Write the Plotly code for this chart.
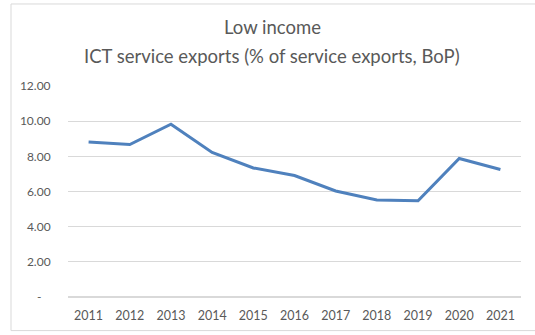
import plotly.graph_objects as go

years = ["2011", "2012", "2013", "2014", "2015", "2016", "2017", "2018", "2019", "2020", "2021"]
ict_share = [8.82, 8.67, 9.83, 8.22, 7.34, 6.91, 6.03, 5.52, 5.47, 7.88, 7.25]
y_ticks = [0, 2, 4, 6, 8, 10, 12]
y_tick_labels = ["-\u00a0\u00a0\u00a0", "2.00", "4.00", "6.00", "8.00", "10.00", "12.00"]
title_lines = ["Low income", "ICT service exports (% of service exports, BoP)"]

W, H = 535, 335
L, R, T, B = 68, 14, 85.5, 36
pw, ph = W - L - R, H - T - B

def px_to_paper_x(px):
    return (px - L) / pw

def px_to_paper_y(py):
    return (H - B - py) / ph

text_col = "#595959"
grid_col = "#d9d9d9"
font_family = "Lato, 'Open Sans', sans-serif"

fig = go.Figure(
    go.Scatter(
        x=years,
        y=ict_share,
        mode="lines",
        line=dict(color="#4f81bd", width=3),
        hoverinfo="x+y",
    )
)

# two-line chart title, centred over the chart frame
title_annotations = [
    dict(
        text=line,
        xref="paper",
        yref="paper",
        x=px_to_paper_x(272),
        y=px_to_paper_y(py),
        xanchor="center",
        yanchor="middle",
        showarrow=False,
        font=dict(family=font_family, size=18.5, color=text_col),
    )
    for line, py in zip(title_lines, [26, 55])
]

fig.update_layout(
    width=W,
    height=H,
    margin=dict(l=L, r=R, t=T, b=B),
    paper_bgcolor="white",
    plot_bgcolor="white",
    showlegend=False,
    font=dict(family=font_family, color=text_col, size=12),
    annotations=title_annotations,
    xaxis=dict(
        type="category",
        range=[-0.5, len(years) - 0.5],
        showgrid=False,
        showline=False,
        zeroline=False,
        ticks="outside",
        ticklen=7,
        tickcolor="rgba(0,0,0,0)",
        tickfont=dict(size=12.5, color=text_col),
    ),
    yaxis=dict(
        range=[0, 12],
        tickvals=y_ticks,
        ticktext=y_tick_labels,
        showgrid=True,
        gridcolor=grid_col,
        gridwidth=1,
        zeroline=True,
        zerolinecolor=grid_col,
        zerolinewidth=1.5,
        showline=False,
        ticks="outside",
        ticklen=14,
        tickcolor="rgba(0,0,0,0)",
        tickfont=dict(size=12, color=text_col),
    ),
    shapes=[
        dict(
            type="rect",
            xref="paper",
            yref="paper",
            x0=px_to_paper_x(11),
            x1=px_to_paper_x(545),
            y0=px_to_paper_y(333),
            y1=px_to_paper_y(2.5),
            line=dict(color=grid_col, width=1),
            fillcolor="rgba(0,0,0,0)",
            layer="below",
        )
    ],
)

fig.write_html("out.html")
